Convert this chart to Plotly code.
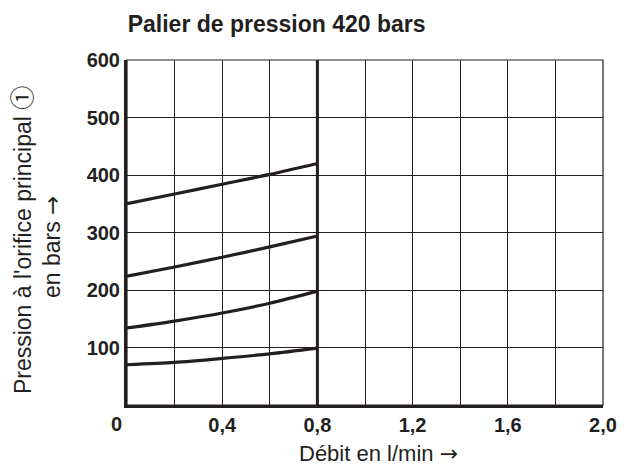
import plotly.graph_objects as go

# Data
flow = [0.0, 0.2, 0.4, 0.6, 0.8]
p_420 = [350, 367, 384, 401, 420]
p_300 = [224, 240, 257, 275, 294]
p_200 = [134, 146, 160, 177, 198]
p_100 = [70, 74, 81, 89, 99]
series = [p_420, p_300, p_200, p_100]

max_flow_line = 0.8
x_grid = [0.0, 0.2, 0.4, 0.6, 0.8, 1.0, 1.2, 1.4, 1.6, 1.8, 2.0]
x_labels = ["", "", "0,4", "", "0,8", "", "1,2", "", "1,6", "", "2,0"]
y_grid = [0, 100, 200, 300, 400, 500, 600]
y_labels = ["", "100", "200", "300", "400", "500", "600"]

INK = "#231f20"
tick_font = dict(family="Liberation Sans, Arial", size=20, color=INK)
label_font = dict(family="Liberation Sans, Arial", size=22, color=INK)
ylabel_font = dict(family="Liberation Sans, Arial", size=23, color=INK)
ARROW = '<span style="font-family:DejaVu Sans">→</span>'
CIRCLED_ONE = '<span style="font-family:Noto Sans CJK JP;font-size:24px">①</span>'

fig = go.Figure()
for s in series:
    fig.add_trace(go.Scatter(x=flow, y=s, mode="lines",
                             line=dict(color=INK, width=3.2, shape="spline", smoothing=0.8),
                             showlegend=False, hoverinfo="skip"))

fig.add_trace(go.Scatter(x=[max_flow_line, max_flow_line], y=[y_grid[0], y_grid[-1]], mode="lines",
                         line=dict(color=INK, width=3), showlegend=False, hoverinfo="skip"))

fig.update_layout(
    width=629, height=467,
    margin=dict(l=127, r=19, t=60, b=62),
    paper_bgcolor="white", plot_bgcolor="white",
    title=dict(text="<b>Palier de pression 420 bars</b>", x=0.203, xanchor="left",
               y=0.948, yanchor="middle",
               font=dict(family="Liberation Sans, Arial", size=23, color=INK)),
    xaxis=dict(range=[0, 2.0], tickmode="array", tickvals=x_grid,
               ticktext=[f"<b>{t}</b>" if t else "" for t in x_labels],
               showgrid=True, gridcolor=INK, gridwidth=1, zeroline=False,
               showline=True, linecolor=INK, linewidth=3, ticks="",
               tickfont=tick_font),
    yaxis=dict(range=[0, 600], tickmode="array", tickvals=y_grid,
               ticktext=[f"<b>{t}</b>" if t else "" for t in y_labels],
               showgrid=True, gridcolor=INK, gridwidth=1, zeroline=False,
               showline=True, linecolor=INK, linewidth=3, ticks="",
               tickfont=tick_font),
)

fig.add_shape(type="rect", xref="paper", yref="paper", x0=0, y0=0, x1=1, y1=1,
              line=dict(color=INK, width=1.2), layer="above")
fig.add_annotation(x=0, y=0, xref="x", yref="y", text="<b>0</b>", showarrow=False,
                   xanchor="right", yanchor="top", xshift=-3, yshift=-6, font=tick_font)

# Axis titles
fig.add_annotation(x=0.5, y=0, xref="paper", yref="paper", text="Débit en l/min " + ARROW,
                   showarrow=False, xanchor="center", yanchor="middle",
                   xshift=13, yshift=-48, font=label_font)
fig.add_annotation(x=0, y=0.478, xref="paper", yref="paper",
                   text="Pression à l'orifice principal " + CIRCLED_ONE, textangle=-90,
                   showarrow=False, xanchor="center", yanchor="middle",
                   xshift=-107, font=ylabel_font)
fig.add_annotation(x=0, y=0.458, xref="paper", yref="paper",
                   text="en bars " + ARROW, textangle=-90,
                   showarrow=False, xanchor="center", yanchor="middle",
                   xshift=-75, font=ylabel_font)

fig.write_html("out.html")
